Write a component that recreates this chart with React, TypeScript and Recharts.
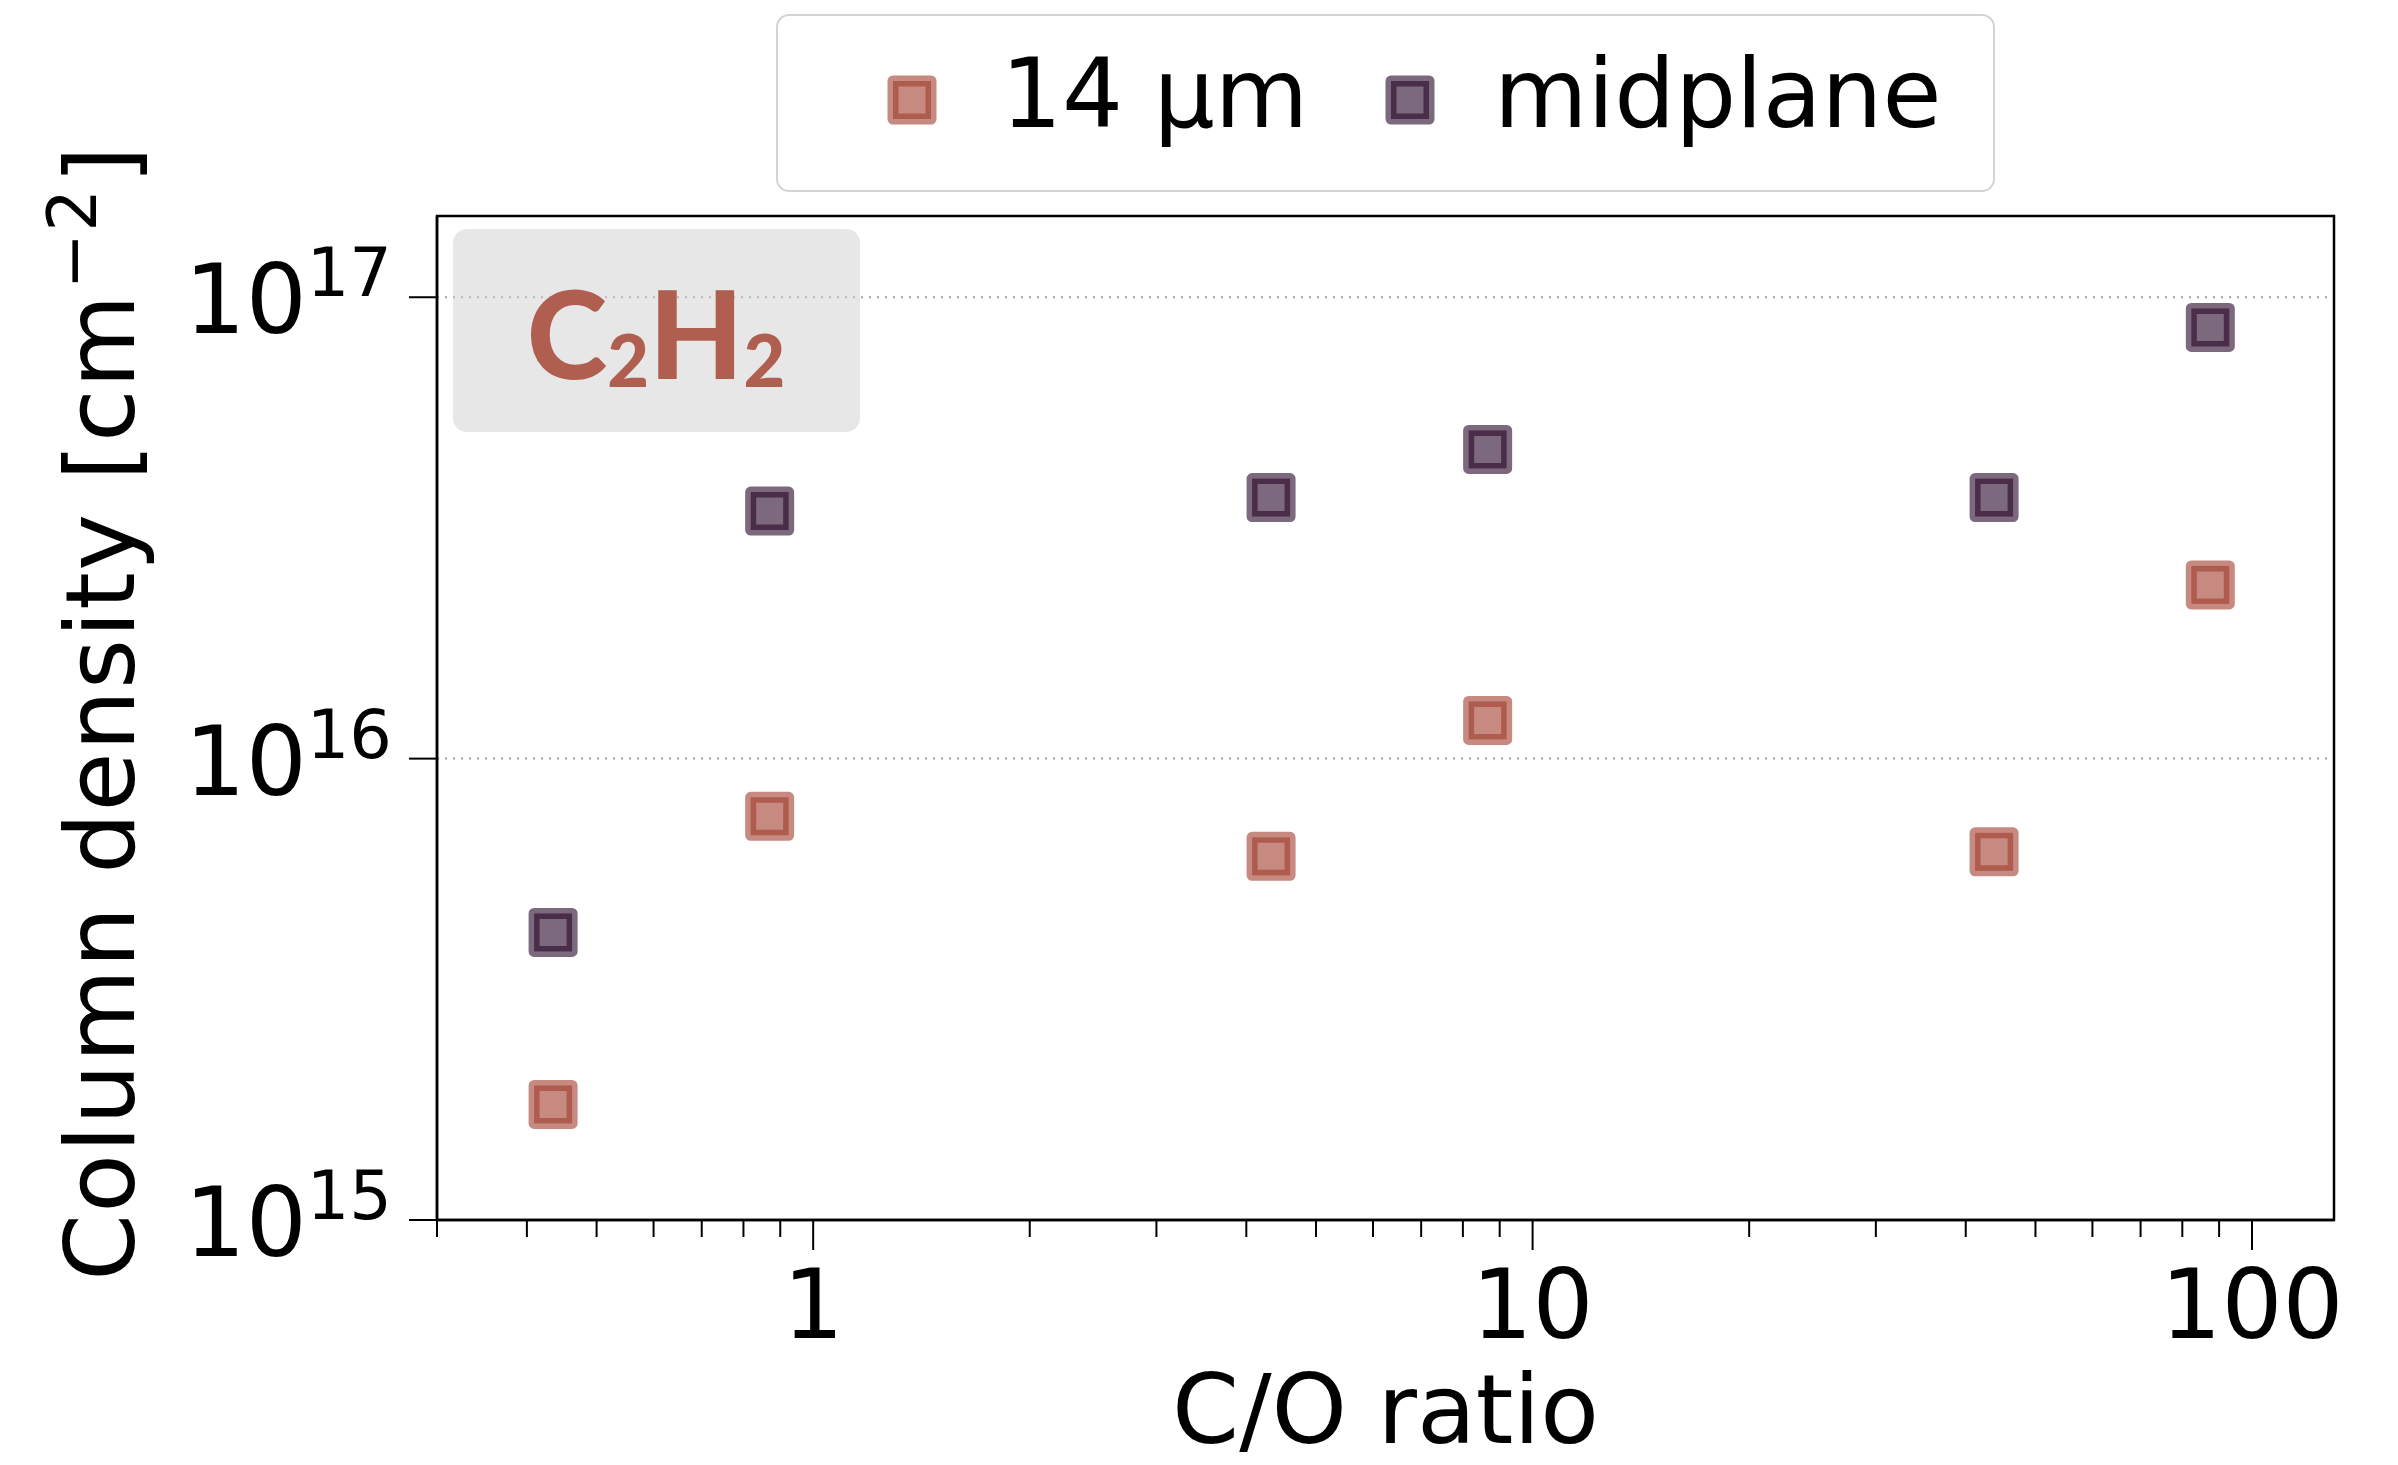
import React from 'react';
import {
  ScatterChart, Scatter, XAxis, YAxis, CartesianGrid, ReferenceArea, Legend,
} from 'recharts';

// C/O ratio of each model
const coRatio = [0.435, 0.87, 4.33, 8.66, 43.8, 87.5];
// C2H2 column density [cm^-2]
const col14um = [1.78e15, 7.5e15, 6.14e15, 1.21e16, 6.28e15, 2.38e16];
const colMidplane = [4.2e15, 3.44e16, 3.68e16, 4.68e16, 3.68e16, 8.6e16];

const seriesNames = ['14 µm', 'midplane'];
const seriesColors = ['#a03c2d', '#260526'];

const xMajorTicks = [1, 10, 100];
const xTickLabels = ['1', '10', '100'];
const xMinorTicks = [0.3, 0.4, 0.5, 0.6, 0.7, 0.8, 0.9, 2, 3, 4, 5, 6, 7, 8, 9, 20, 30, 40, 50, 60, 70, 80, 90];
const yTicks = [1e15, 1e16, 1e17];
const yTickExponents = ['15', '16', '17'];

const data14 = coRatio.map((x, i) => ({ x, y: col14um[i] }));
const dataMid = coRatio.map((x, i) => ({ x, y: colMidplane[i] }));

const FONT = '"DejaVu Sans", sans-serif';

function Square({ cx, cy, color }: { cx: number; cy: number; color: string }) {
  const s = 38;
  return (
    <rect
      x={cx - s / 2}
      y={cy - s / 2}
      width={s}
      height={s}
      fill={color}
      fillOpacity={0.6}
      stroke={color}
      strokeOpacity={0.6}
      strokeWidth={11}
      strokeLinejoin="round"
    />
  );
}

function XTick(props: any) {
  const { x, y, payload } = props;
  const idx = xMajorTicks.indexOf(payload.value);
  const major = idx >= 0;
  return (
    <g>
      <line x1={x} x2={x} y1={y} y2={y + (major ? 30 : 17)} stroke="#000" strokeWidth={2} />
      {major && (
        <text x={x} y={y + 118} textAnchor="middle" fontSize={96} fontFamily={FONT} fill="#000">
          {xTickLabels[idx]}
        </text>
      )}
    </g>
  );
}

function YTick(props: any) {
  const { x, y, payload } = props;
  const idx = yTicks.indexOf(payload.value);
  return (
    <g>
      <line x1={x - 28} x2={x} y1={y} y2={y} stroke="#000" strokeWidth={2} />
      <text x={x - 45} y={y + 36} textAnchor="end" fontSize={96} fontFamily={FONT} fill="#000">
        10
        <tspan fontSize={67} dy={-37}>{yTickExponents[idx]}</tspan>
      </text>
    </g>
  );
}

function LegendBox() {
  const pos = [
    { mx: 136, tx: 225 },
    { mx: 634, tx: 718 },
  ];
  return (
    <svg width={1219} height={178} style={{ display: 'block' }}>
      <rect x={1} y={1} width={1217} height={176} rx={12} fill="#fff" fillOpacity={0.8} stroke="#d4d4d4" strokeWidth={2} />
      {seriesNames.map((name, i) => (
        <g key={name}>
          <Square cx={pos[i].mx} cy={86} color={seriesColors[i]} />
          <text x={pos[i].tx} y={113} fontSize={96} fontFamily={FONT} fill="#000">{name}</text>
        </g>
      ))}
    </svg>
  );
}

export default function App() {
  return (
    <div style={{ position: 'absolute', left: 0, top: 0, width: 2398, height: 1465, background: '#fff' }}>
      <ScatterChart width={2398} height={1465} margin={{ top: 216, right: 64, bottom: 0, left: 0 }}>
        <CartesianGrid vertical={false} stroke="#a0a0a0" strokeWidth={2} strokeDasharray="2 6" />
        <XAxis
          dataKey="x"
          type="number"
          scale="log"
          domain={[0.3, 130]}
          allowDataOverflow
          ticks={[...xMinorTicks, ...xMajorTicks].sort((a, b) => a - b)}
          interval={0}
          tick={<XTick />}
          tickLine={false}
          tickSize={0}
          tickMargin={0}
          axisLine={{ stroke: '#000', strokeWidth: 2.5 }}
          height={245}
          label={({ viewBox }: any) => (
            <text x={viewBox.x + viewBox.width / 2} y={1443} textAnchor="middle" fontSize={96} fontFamily={FONT} fill="#000">
              C/O ratio
            </text>
          )}
        />
        <YAxis
          dataKey="y"
          type="number"
          scale="log"
          domain={[1e15, 1.5e17]}
          allowDataOverflow
          ticks={yTicks}
          interval={0}
          tick={<YTick />}
          tickLine={false}
          tickSize={0}
          tickMargin={0}
          axisLine={{ stroke: '#000', strokeWidth: 2.5 }}
          width={437}
          label={({ viewBox }: any) => {
            const cy = viewBox.y + viewBox.height / 2 - 5;
            return (
              <text x={134} y={cy} transform={`rotate(-90, 134, ${cy})`} textAnchor="middle" fontSize={96} letterSpacing={1.3} fontFamily={FONT} fill="#000">
                Column density [cm
                <tspan fontSize={67} dx={4} dy={-38}>−2</tspan>
                <tspan fontSize={96} dx={4} dy={38}>]</tspan>
              </text>
            );
          }}
        />
        <ReferenceArea
          x1={0.3}
          x2={130}
          y1={1e15}
          y2={1.5e17}
          fill="none"
          stroke="#000"
          strokeWidth={2.5}
          ifOverflow="visible"
        />
        <Scatter
          name={seriesNames[0]}
          data={data14}
          isAnimationActive={false}
          fill={seriesColors[0]}
          shape={(p: any) => <Square cx={p.cx} cy={p.cy} color={seriesColors[0]} />}
        />
        <Scatter
          name={seriesNames[1]}
          data={dataMid}
          isAnimationActive={false}
          fill={seriesColors[1]}
          shape={(p: any) => <Square cx={p.cx} cy={p.cy} color={seriesColors[1]} />}
        />
        <Legend
          layout="horizontal"
          verticalAlign="middle"
          align="center"
          content={() => <LegendBox />}
          wrapperStyle={{ left: 776, top: 14, width: 1219, height: 178 }}
        />
      </ScatterChart>
      <svg
        width={410}
        height={206}
        style={{ position: 'absolute', left: 452, top: 228 }}
      >
        <rect x={1} y={1} width={407} height={203} rx={14} fill="#d0d0d0" fillOpacity={0.5} />
        <text x={204} y={151} textAnchor="middle" fontSize={122} fontWeight={900} fontFamily="Lato, sans-serif" fill="#b05e50">
          C<tspan fontSize={72} dy={8}>2</tspan><tspan dy={-8}>H</tspan><tspan fontSize={72} dy={8}>2</tspan>
        </text>
      </svg>
    </div>
  );
}
